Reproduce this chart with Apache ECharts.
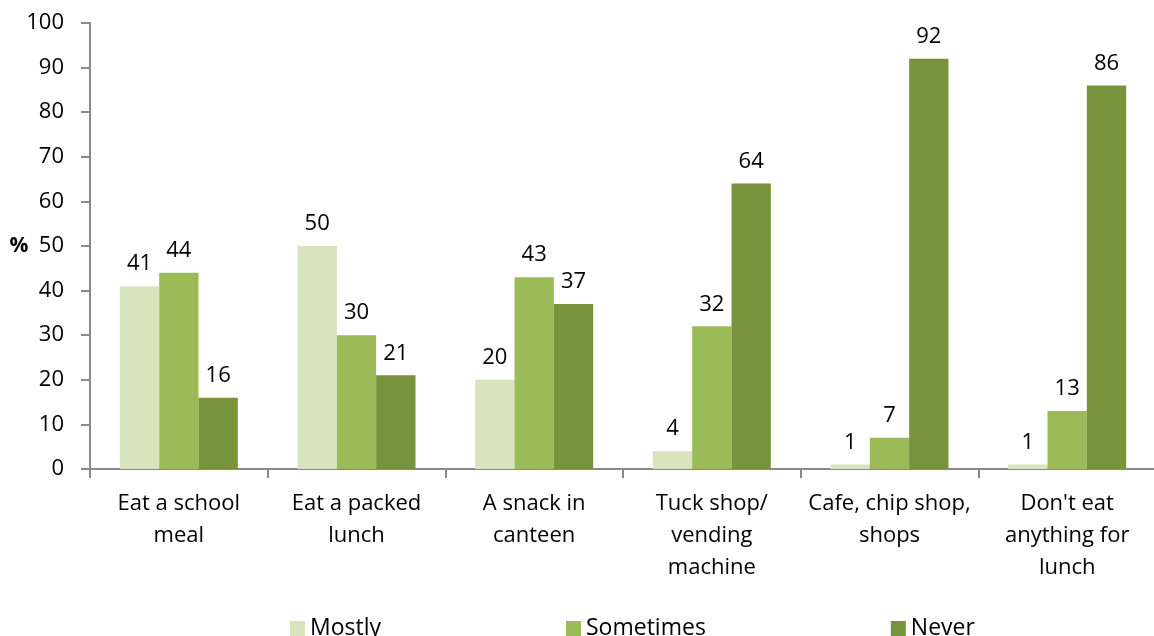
<!DOCTYPE html>
<html>
<head>
<meta charset="utf-8">
<script src="https://cdn.jsdelivr.net/npm/echarts@6/dist/echarts.min.js"></script>
<style>
  html, body { margin: 0; padding: 0; background: #fff; }
  #lunchChart { width: 1154px; height: 636px; }
</style>
</head>
<body>
<div id="lunchChart"></div>
<script>
// 数据
const categories = ['Eat a school\nmeal', 'Eat a packed\nlunch', 'A snack in\ncanteen', 'Tuck shop/\nvending\nmachine', 'Cafe, chip shop,\nshops', "Don't eat\nanything for\nlunch"];
const mostly = [41, 50, 20, 4, 1, 1];
const sometimes = [44, 30, 43, 32, 7, 13];
const never = [16, 21, 37, 64, 92, 86];
const yTicks = { min: 0, max: 100, interval: 10 };

const fontName = '"Open Sans", sans-serif';

function makeSeries(name, data, color) {
    return {
        name: name,
        type: 'bar',
        data: data,
        barGap: '0%',
        barCategoryGap: '33.6%',
        itemStyle: { color: color },
        label: {
            show: true,
            position: 'top',
            distance: 11,
            color: '#000',
            fontSize: 22,
            fontFamily: fontName
        }
    };
}

let lunchChart = echarts.init(document.getElementById('lunchChart'));

let lunchOptions = {
    animation: false,
    textStyle: { fontFamily: fontName },
    grid: { left: 90, top: 23, width: 1066, height: 446, containLabel: false, outerBoundsMode: 'none' },
    legend: {
        top: 612,
        left: 285,
        itemWidth: 15,
        itemHeight: 15,
        itemGap: 185,
        icon: 'rect',
        textStyle: { fontSize: 23, color: '#000', fontFamily: fontName },
        data: ['Mostly', 'Sometimes', 'Never']
    },
    xAxis: {
        type: 'category',
        data: categories,
        axisLine: { lineStyle: { color: '#898989', width: 2 } },
        axisTick: { show: true, length: 9, lineStyle: { color: '#898989', width: 2 } },
        axisLabel: { color: '#000', fontSize: 22, lineHeight: 32, margin: 19, interval: 0 }
    },
    yAxis: {
        type: 'value',
        min: yTicks.min,
        max: yTicks.max,
        interval: yTicks.interval,
        name: '%',
        nameLocation: 'middle',
        nameRotate: 0,
        nameGap: 71,
        nameMoveOverlap: false,
        nameTextStyle: { fontSize: 21, fontWeight: 'bold', color: '#000', align: 'center' },
        splitLine: { show: false },
        axisLine: { show: true, lineStyle: { color: '#898989', width: 2 } },
        axisTick: { show: true, length: 9, lineStyle: { color: '#898989', width: 2 } },
        axisLabel: { color: '#000', fontSize: 22, margin: 26 }
    },
    series: [
        makeSeries('Mostly', mostly, '#D7E4BD'),
        makeSeries('Sometimes', sometimes, '#9BBB59'),
        makeSeries('Never', never, '#77933C')
    ]
};

lunchChart.setOption(lunchOptions);
</script>
</body>
</html>
